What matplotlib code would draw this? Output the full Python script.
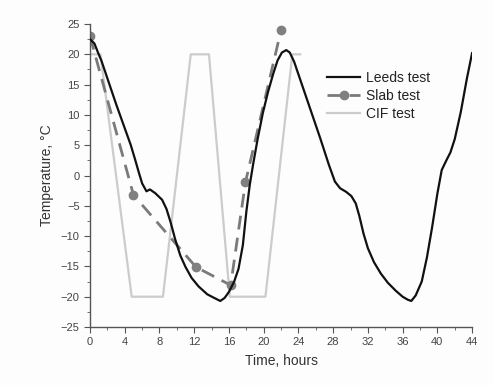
import matplotlib
matplotlib.use("Agg")
import matplotlib.pyplot as plt
from matplotlib.ticker import MultipleLocator

plt.rcParams['font.family'] = ['Liberation Sans', 'DejaVu Sans']

# Leeds test
leeds_t = [0, 0.5, 1.0, 1.3, 3.0, 4.7, 5.2, 5.6, 6.0, 6.5, 6.9, 7.5, 8.3, 8.8, 9.3, 9.8, 10.4,
           11.0, 11.7, 12.5, 13.5, 14.3, 15.0, 15.5, 16.0, 16.6, 17.1, 17.6, 18.0, 18.4,
           18.8, 19.3, 19.9, 20.5, 21.1, 21.6, 22.1, 22.6, 23.0, 23.5, 25.0, 26.5, 27.5,
           28.2, 28.8, 29.5, 30.1, 30.6, 31.0, 31.5, 32.0, 32.7, 33.5, 34.3, 35.2, 36.0,
           36.6, 37.0, 37.5, 38.2, 38.8, 39.4, 40.0, 40.5, 41.0, 41.5, 42.0, 42.7, 43.4, 44.0]
leeds_y = [22.5, 21.8, 20.0, 19.0, 11.8, 5.0, 2.6, 0.6, -1.3, -2.6, -2.3, -2.9, -4.0, -5.5,
           -7.8, -10.5, -13.2, -15.1, -16.9, -18.3, -19.6, -20.2, -20.7, -20.2, -19.2, -17.5,
           -15.4, -11.5, -6.0, -1.5, 2.0, 6.0, 10.3, 13.8, 16.8, 19.0, 20.3, 20.7, 20.3, 18.8,
           12.5, 6.2, 1.8, -1.0, -2.1, -2.7, -3.4, -4.6, -6.6, -9.6, -12.0, -14.3, -16.2,
           -17.7, -19.0, -20.0, -20.5, -20.7, -19.8, -17.5, -13.5, -8.5, -3.0, 0.9, 2.4, 3.8,
           6.0, 10.5, 16.0, 20.2]

# Slab test
slab_t = [0, 5.0, 12.2, 16.2, 17.9, 22.0]
slab_y = [23.0, -3.2, -15.1, -18.1, -1.1, 24.0]

# CIF test
cif_t = [0, 1.2, 4.8, 8.4, 11.6, 13.7, 16.1, 20.2, 23.3, 24.2]
cif_y = [20, 20, -20, -20, 20, 20, -20, -20, 20, 20]

fig = plt.figure(figsize=(4.93, 3.85), dpi=100)
fig.patch.set_facecolor('#fdfdfd')
ax = fig.add_axes([0.1826, 0.1506, 0.775, 0.787])
ax.set_facecolor('#fdfdfd')

ax.plot(leeds_t, leeds_y, color='#111111', lw=1.6, label='Leeds test', zorder=3,
        solid_joinstyle='round')
ax.plot(slab_t, slab_y, color='#7a7a7a', lw=2.0, ls=(0, (5, 3)), marker='o', ms=6,
        markerfacecolor='#808080', markeredgecolor='#808080', label='Slab test', zorder=2)
ax.plot(cif_t, cif_y, color='#cccccc', lw=1.6, label='CIF test', zorder=1)

ax.set_xlim(0, 44)
ax.set_ylim(-25, 25)
ax.xaxis.set_major_locator(MultipleLocator(4))
ax.xaxis.set_minor_locator(MultipleLocator(2))
ax.yaxis.set_major_locator(MultipleLocator(5))
ax.yaxis.set_minor_locator(MultipleLocator(2.5))
ax.spines['top'].set_visible(False)
ax.spines['right'].set_visible(False)
for s in ('left', 'bottom'):
    ax.spines[s].set_color('#555555')
    ax.spines[s].set_linewidth(1.0)
ax.tick_params(which='major', direction='out', length=4, labelsize=8, colors='#555555',
               labelcolor='#444444')
ax.tick_params(which='minor', direction='out', length=2, colors='#555555')

ax.set_xlabel('Time, hours', fontsize=10, color='#333333', labelpad=5)
ax.set_ylabel('Temperature, \u00b0C', fontsize=10, color='#333333', labelpad=5)

leg = ax.legend(loc='upper left', bbox_to_anchor=(0.62, 0.845), frameon=False, fontsize=10,
                handlelength=2.4, handletextpad=0.4, labelspacing=0.3, borderaxespad=0,
                borderpad=0)
for t in leg.get_texts():
    t.set_color('#222222')

fig.savefig('out.png', dpi=100, facecolor=fig.get_facecolor())
